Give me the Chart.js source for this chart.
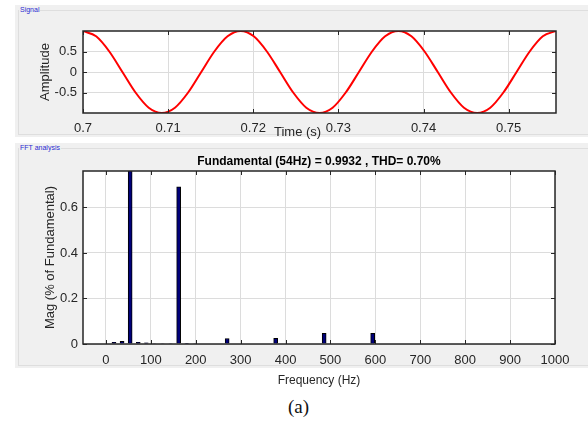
<!DOCTYPE html>
<html>
<head>
<meta charset="utf-8">
<script src="https://cdn.jsdelivr.net/npm/chart.js@4.4.1/dist/chart.umd.min.js"></script>
<style>
  body { margin: 0; width: 588px; height: 421px; background: #fff; position: relative; overflow: hidden;
         font-family: "Liberation Sans", Arial, sans-serif; }
  .panel { position: absolute; background: #f0f0f0; }
  .frame { position: absolute; border: 1px solid #dedede; }
  .plabel { position: absolute; font-size: 7px; color: #2b2bd0; background: #f0f0f0; padding: 0 1px; line-height: 8px; }
  canvas { position: absolute; }
  .txt { position: absolute; color: #262626; font-size: 13px; white-space: nowrap; }
</style>
</head>
<body>
<div class="panel" style="left:15px; top:5px; width:573px; height:132px;">
  <div class="frame" style="left:3px; top:5px; right:-2px; bottom:2px;"></div>
  <div class="plabel" style="left:4px; top:1px;">Signal</div>
</div>
<div class="panel" style="left:15px; top:143px; width:573px; height:225px;">
  <div class="frame" style="left:3px; top:5px; right:-2px; bottom:2px;"></div>
  <div class="plabel" style="left:4px; top:1px;">FFT analysis</div>
</div>

<canvas id="chartSignal" width="572" height="135" style="left:16px; top:5px;"></canvas>
<canvas id="chartFFT" width="572" height="250" style="left:16px; top:143px;"></canvas>

<div class="txt" style="left:274px; top:124px;">Time (s)</div>
<div class="txt" style="left:288px; top:396px; font-family:'Liberation Serif', serif; font-size:19px; color:#111;">(a)</div>

<script>
// signal samples (time in s, amplitude)
const timeValues = [
  0.7, 0.70154, 0.70309, 0.70463, 0.70617, 0.70772, 0.70926, 0.71080, 0.71235, 0.71389,
  0.71543, 0.71698, 0.71852, 0.72006, 0.72160, 0.72315, 0.72469, 0.72623, 0.72778, 0.72932,
  0.73086, 0.73241, 0.73395, 0.73549, 0.73704, 0.73858, 0.74012, 0.74167, 0.74321, 0.74475,
  0.74630, 0.74784, 0.74938, 0.75093, 0.75247, 0.75401, 0.75556
];
const amplitudeValues = [
  1, 0.87, 0.5, 0, -0.5, -0.87, -1, -0.87, -0.5, 0,
  0.5, 0.87, 1, 0.87, 0.5, 0, -0.5, -0.87, -1, -0.87,
  -0.5, 0, 0.5, 0.87, 1, 0.87, 0.5, 0, -0.5, -0.87,
  -1, -0.87, -0.5, 0, 0.5, 0.87, 1
];
const timeTicks = [0.7, 0.71, 0.72, 0.73, 0.74, 0.75];
const amplitudeTicks = [-0.5, 0, 0.5];

// FFT bins (Hz) and magnitudes
const freqValues = [18, 36, 54, 72, 90, 108, 126, 144, 162, 180, 198, 270, 378, 486, 594];
const magValues = [0.007, 0.012, 1.0, 0.007, 0.005, 0.002, 0.002, 0.002, 0.69, 0.003, 0.002, 0.024, 0.025, 0.047, 0.047];
const freqTicks = [0, 100, 200, 300, 400, 500, 600, 700, 800, 900, 1000];
const magTicks = [0, 0.2, 0.4, 0.6];
const fftTitle = "Fundamental (54Hz) = 0.9932 , THD= 0.70%";

Chart.defaults.font.family = '"Liberation Sans", Arial, sans-serif';
Chart.defaults.font.size = 13;
Chart.defaults.color = "#262626";

// white axes background, box + inward ticks like matlab axes
const matlabBox = {
  id: "matlabBox",
  beforeDraw(chart) {
    const { ctx, chartArea: a } = chart;
    ctx.save();
    ctx.fillStyle = "#ffffff";
    ctx.fillRect(a.left, a.top, a.right - a.left, a.bottom - a.top);
    ctx.restore();
  },
  afterDatasetsDraw(chart, args, opts) {
    const { ctx, chartArea: a, scales } = chart;
    ctx.save();
    ctx.strokeStyle = "#262626";
    ctx.lineWidth = 1;
    ctx.beginPath();
    scales.x.ticks.forEach((t) => {
      const px = Math.round(scales.x.getPixelForValue(t.value)) + 0.5;
      ctx.moveTo(px, a.bottom); ctx.lineTo(px, a.bottom - 4);
      ctx.moveTo(px, a.top); ctx.lineTo(px, a.top + 4);
    });
    scales.y.ticks.forEach((t) => {
      const py = Math.round(scales.y.getPixelForValue(t.value)) + 0.5;
      ctx.moveTo(a.left, py); ctx.lineTo(a.left + 4, py);
      ctx.moveTo(a.right, py); ctx.lineTo(a.right - 4, py);
    });
    ctx.stroke();
    ctx.lineWidth = 1.5;
    ctx.strokeRect(a.left, a.top, a.right - a.left, a.bottom - a.top);
    if (opts.title) {
      ctx.font = 'bold 12px "Liberation Sans", Arial, sans-serif';
      ctx.fillStyle = "#000";
      ctx.textAlign = "center";
      ctx.textBaseline = "alphabetic";
      ctx.fillText(opts.title, (a.left + a.right) / 2, a.top - 6);
    }
    ctx.restore();
  },
};

const gridStyle = { color: "#dcdcdc", drawTicks: false };

new Chart(document.getElementById("chartSignal"), {
  type: "line",
  data: {
    datasets: [{
      data: timeValues.map((t, i) => ({ x: t, y: amplitudeValues[i] })),
      borderColor: "#ff0000",
      borderWidth: 2,
      pointRadius: 0,
      cubicInterpolationMode: "monotone",
    }],
  },
  options: {
    responsive: false,
    animation: false,
    layout: { padding: { left: 22, top: 26, right: 32, bottom: 0 } },
    plugins: { legend: { display: false }, tooltip: { enabled: false }, matlabBox: {} },
    scales: {
      x: {
        type: "linear", min: 0.7, max: 0.75556,
        grid: gridStyle, border: { display: false },
        afterBuildTicks: (s) => { s.ticks = timeTicks.map((v) => ({ value: v })); },
        afterFit: (s) => { s.height = 27; },
        ticks: { padding: 8, maxRotation: 0, callback: (v) => String(v) },
      },
      y: {
        min: -1, max: 1,
        grid: gridStyle, border: { display: false },
        afterBuildTicks: (s) => { s.ticks = amplitudeTicks.map((v) => ({ value: v })); },
        afterFit: (s) => { s.width = 45; },
        ticks: { padding: 6, callback: (v) => String(v) },
        title: { display: true, text: "Amplitude", padding: 0, font: { size: 13 } },
      },
    },
  },
  plugins: [matlabBox],
});

new Chart(document.getElementById("chartFFT"), {
  type: "bar",
  data: {
    datasets: [{
      data: freqValues.map((f, i) => ({ x: f, y: magValues[i] })),
      backgroundColor: "#00007a",
      borderColor: "#000000",
      borderWidth: 1,
      barThickness: 4,
    }],
  },
  options: {
    responsive: false,
    animation: false,
    layout: { padding: { left: 27, top: 28, right: 33, bottom: 5 } },
    plugins: { legend: { display: false }, tooltip: { enabled: false }, matlabBox: { title: fftTitle } },
    scales: {
      x: {
        type: "linear", min: -51, max: 1000, offset: false,
        grid: { ...gridStyle, offset: false }, border: { display: false },
        afterBuildTicks: (s) => { s.ticks = freqTicks.map((v) => ({ value: v })); },
        afterFit: (s) => { s.height = 44; },
        ticks: { padding: 9, maxRotation: 0, callback: (v) => String(v) },
        title: { display: true, text: "Frequency (Hz)", padding: 0, font: { size: 12 } },
      },
      y: {
        min: 0, max: 0.76,
        grid: gridStyle, border: { display: false },
        afterBuildTicks: (s) => { s.ticks = magTicks.map((v) => ({ value: v })); },
        afterFit: (s) => { s.width = 40; },
        ticks: { padding: 5, callback: (v) => String(v) },
        title: { display: true, text: "Mag (% of Fundamental)", padding: 0, font: { size: 13 } },
      },
    },
  },
  plugins: [matlabBox],
});
</script>
</body>
</html>
